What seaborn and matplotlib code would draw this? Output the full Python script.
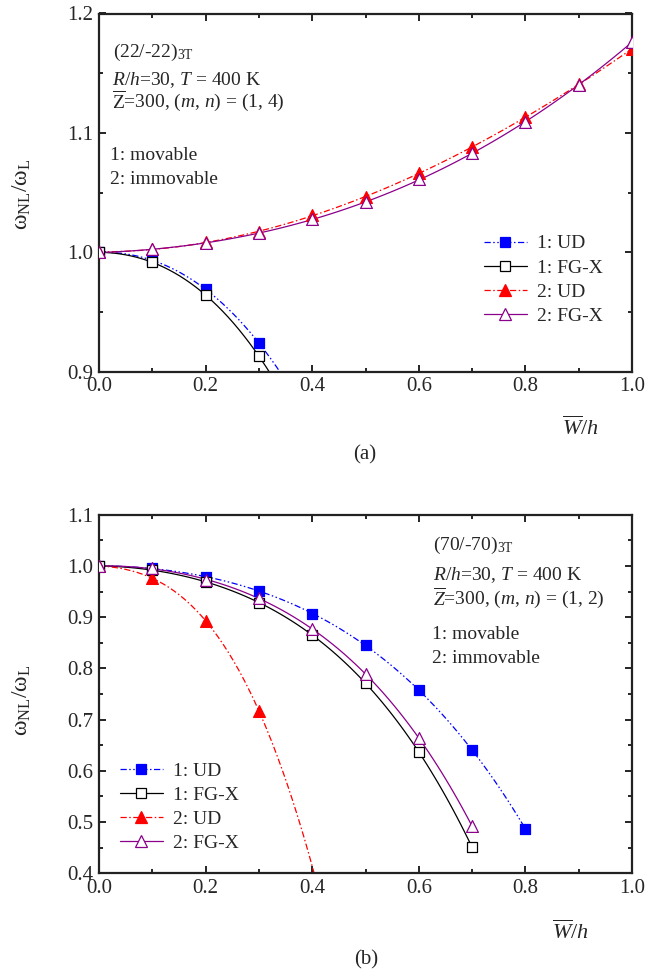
import numpy as np
import pandas as pd
import matplotlib
matplotlib.use("Agg")
import matplotlib.pyplot as plt
from matplotlib.lines import Line2D
from matplotlib.ticker import MultipleLocator, FormatStrFormatter
import seaborn as sns

# ---------------- data ----------------
# panel (a)
a_x_mov = [0.0, 0.1, 0.2, 0.3]
a_mov_ud = [1.000, 0.9933, 0.969, 0.924]
a_mov_fgx = [1.000, 0.9916, 0.9642, 0.913]
a_x_imm = [0.0, 0.1, 0.2, 0.3, 0.4, 0.5, 0.6, 0.7, 0.8, 0.9, 1.0]
a_imm_ud = [1.000, 1.0028, 1.0085, 1.0172, 1.0312, 1.046, 1.066, 1.088, 1.1136, 1.141, 1.170]
a_imm_fgx = [1.000, 1.0025, 1.0075, 1.016, 1.0276, 1.0424, 1.061, 1.083, 1.109, 1.140, 1.1764]

# panel (b)
b_x_mov_ud = [0.0, 0.1, 0.2, 0.3, 0.4, 0.5, 0.6, 0.7, 0.8]
b_mov_ud = [1.000, 0.995, 0.979, 0.951, 0.907, 0.845, 0.758, 0.640, 0.487]
b_x_fgx = [0.0, 0.1, 0.2, 0.3, 0.4, 0.5, 0.6, 0.7]
b_mov_fgx = [1.000, 0.992, 0.969, 0.928, 0.865, 0.772, 0.636, 0.451]
b_x_imm_ud = [0.0, 0.1, 0.2, 0.3]
b_imm_ud = [1.000, 0.976, 0.893, 0.717]
b_imm_fgx = [1.000, 0.995, 0.973, 0.937, 0.877, 0.789, 0.664, 0.492]

legend_labels = ["1: UD", "1: FG-X", "2: UD", "2: FG-X"]

# ---------------- style ----------------
sns.set_style("ticks")
plt.rcParams["font.family"] = ["Liberation Serif", "DejaVu Serif"]
plt.rcParams["mathtext.fontset"] = "custom"
plt.rcParams["mathtext.rm"] = "Liberation Serif"
plt.rcParams["mathtext.it"] = "Liberation Serif:italic"
plt.rcParams["mathtext.bf"] = "Liberation Serif:bold"

BLUE = "#0000FF"
BLACK = "#000000"
RED = "#FF0000"
PURPLE = "#8B008B"
LS_BLUE = (0, (5, 2, 1.2, 2, 1.2, 2))
LS_RED = (0, (5, 2, 1.2, 2))
LW = 0.9
FS = 14
TFS = 15
LFS = 14

W, H = 645, 975
fig = plt.figure(figsize=(W / 100, H / 100), dpi=100)


def px_axes(left, top, right, bottom):
    return fig.add_axes([left / W, 1 - bottom / H, (right - left) / W, (bottom - top) / H])


ax1 = px_axes(99, 13.5, 632, 371.7)
ax2 = px_axes(99, 514.7, 632, 873.3)

series_styles = [
    dict(color=BLUE, ls=LS_BLUE, marker="s", ms=6.5, mfc=BLUE, mec=BLUE),
    dict(color=BLACK, ls="-", marker="s", ms=6.5, mfc="white", mec=BLACK),
    dict(color=RED, ls=LS_RED, marker="^", ms=8.5, mfc=RED, mec=RED),
    dict(color=PURPLE, ls="-", marker="^", ms=8.5, mfc="white", mec=PURPLE),
]


def draw(ax, x, y, st, order, truncate):
    df = pd.DataFrame({"x": x, "y": y})
    sns.regplot(data=df, x="x", y="y", order=order, ci=None, scatter=False,
                truncate=truncate, ax=ax,
                line_kws=dict(color=st["color"], ls=st["ls"], lw=LW, zorder=2))
    sns.scatterplot(data=df, x="x", y="y", marker=st["marker"], s=st["ms"] ** 2,
                    color=st["mfc"], edgecolor=st["mec"], linewidth=0.9,
                    ax=ax, zorder=3, legend=False)


def style_axes(ax, ylo, yhi):
    ax.set_xlim(0, 1.0)
    ax.set_ylim(ylo, yhi)
    ax.xaxis.set_major_locator(MultipleLocator(0.2))
    ax.xaxis.set_minor_locator(MultipleLocator(0.1))
    ax.yaxis.set_major_locator(MultipleLocator(0.1))
    ax.yaxis.set_minor_locator(MultipleLocator(0.05))
    ax.xaxis.set_major_formatter(FormatStrFormatter("%.1f"))
    ax.yaxis.set_major_formatter(FormatStrFormatter("%.1f"))
    ax.tick_params(which="both", direction="in", top=True, right=True,
                   labelsize=TFS, width=1.2, color="black")
    ax.tick_params(which="major", length=5, pad=4)
    ax.tick_params(which="minor", length=3)
    for sp in ax.spines.values():
        sp.set_linewidth(1.6)
        sp.set_color("#222222")
        sp.set_visible(True)
    ax.set_xlabel("")
    ax.set_ylabel("")


# panel (a)
style_axes(ax1, 0.9, 1.2)
draw(ax1, a_x_mov, a_mov_ud, series_styles[0], 3, False)
draw(ax1, a_x_mov, a_mov_fgx, series_styles[1], 3, False)
draw(ax1, a_x_imm, a_imm_ud, series_styles[2], 3, True)
draw(ax1, a_x_imm, a_imm_fgx, series_styles[3], 3, True)
style_axes(ax1, 0.9, 1.2)

# panel (b)
style_axes(ax2, 0.4, 1.1)
draw(ax2, b_x_mov_ud, b_mov_ud, series_styles[0], 4, True)
draw(ax2, b_x_fgx, b_mov_fgx, series_styles[1], 4, True)
draw(ax2, b_x_imm_ud, b_imm_ud, series_styles[2], 3, False)
draw(ax2, b_x_fgx, b_imm_fgx, series_styles[3], 4, True)
style_axes(ax2, 0.4, 1.1)


def handles():
    hs = []
    for st in series_styles:
        hs.append(Line2D([], [], color=st["color"], ls=st["ls"], lw=LW,
                         marker=st["marker"], ms=st["ms"], mfc=st["mfc"],
                         mec=st["mec"], mew=0.9))
    return hs


for ax, anchor in [(ax1, (0.722, 0.382)), (ax2, (0.039, 0.310))]:
    ax.legend(handles(), legend_labels, loc="upper left", bbox_to_anchor=anchor,
              frameon=False, fontsize=LFS, handlelength=2.2, handletextpad=0.55,
              labelspacing=0.33, borderaxespad=0, borderpad=0)


def ftext(x, y, s, **kw):
    fig.text(x / W, 1 - y / H, s, fontsize=kw.pop("fontsize", FS), **kw)


# annotations panel (a)
ftext(113, 57, r"(22/-22)$_{\mathrm{3T}}$", va="baseline")
ftext(112, 85, r"$R/h$=30, $T$ = 400 K", va="baseline")
ftext(112, 107, r"$\overline{\mathrm{Z}}$=300, ($m$, $n$) = (1, 4)", va="baseline")
ftext(110, 160, "1: movable", va="baseline")
ftext(110, 184, "2: immovable", va="baseline")

# annotations panel (b)
ftext(433, 550, r"(70/-70)$_{\mathrm{3T}}$", va="baseline")
ftext(433, 580, r"$R/h$=30, $T$ = 400 K", va="baseline")
ftext(433, 604, r"$\overline{Z}$=300, ($m$, $n$) = (1, 2)", va="baseline")
ftext(432, 639, "1: movable", va="baseline")
ftext(432, 663, "2: immovable", va="baseline")

# axis labels
ylab = r"$\mathrm{\omega}_{\mathrm{NL}}/\mathrm{\omega}_{\mathrm{L}}$"
ftext(22, 194, ylab, rotation=90, ha="center", va="center", fontsize=17)
ftext(22, 700, ylab, rotation=90, ha="center", va="center", fontsize=17)
ftext(580, 428, r"$\overline{W}/h$", ha="center", va="center", fontsize=16)
ftext(570, 932, r"$\overline{W}/h$", ha="center", va="center", fontsize=16)
ftext(365, 455, "(a)", ha="center", va="center", fontsize=15)
ftext(366, 960, "(b)", ha="center", va="center", fontsize=15)

fig.savefig("out.png", dpi=100)
